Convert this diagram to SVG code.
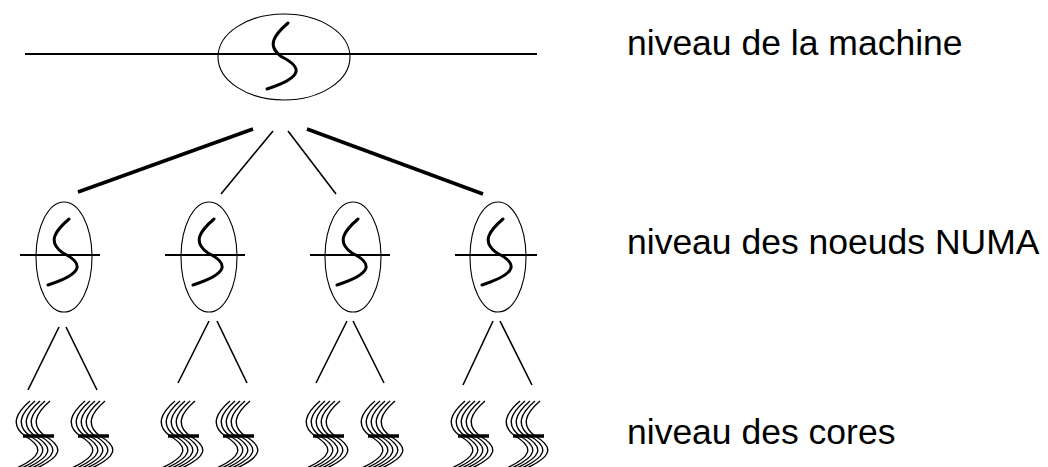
<svg xmlns="http://www.w3.org/2000/svg" xmlns:xlink="http://www.w3.org/1999/xlink" width="1048" height="467" viewBox="0 0 1048 467">
<style>
.ell{fill:none;stroke:#000;stroke-width:1.1}
.hl{stroke:#000;stroke-width:2}
.s{fill:none;stroke:#000;stroke-width:3;stroke-linecap:round}
.strand{fill:none;stroke:#000;stroke-width:1.4}
.bar{stroke:#000;stroke-width:3.5}
.thick{stroke:#000;stroke-width:3.5}
.thin{stroke:#000;stroke-width:1.6}
.lbl{font-family:"Liberation Sans",Arial,sans-serif;font-size:35.5px;fill:#000}
</style>
<defs>
<path id="sg" d="M0,0 C-14,12 -22,23 -6,34 C14,44 16,54 -21,66"/>
<path id="cs" d="M0,0 C-14,12 -20,24 -5,35 C14,46 14,56 -20,70"/>
<g id="core">
<use xlink:href="#cs" class="strand"/>
<use xlink:href="#cs" class="strand" x="5"/>
<use xlink:href="#cs" class="strand" x="10"/>
<use xlink:href="#cs" class="strand" x="15"/>
<use xlink:href="#cs" class="strand" x="20"/>
<line class="bar" x1="-7" y1="35" x2="24" y2="35"/>
</g>
</defs>
<g id="machine">
<line class="hl" x1="25" y1="54" x2="537" y2="54"/>
<ellipse class="ell" cx="284" cy="57" rx="66" ry="43"/>
<use xlink:href="#sg" class="s" x="288" y="23"/>
</g>
<g id="numa1">
<ellipse class="ell" cx="64" cy="257" rx="28" ry="55"/>
<line class="hl" x1="20" y1="255" x2="100" y2="255"/>
<use xlink:href="#sg" class="s" x="69" y="219"/>
</g>
<g id="numa2">
<ellipse class="ell" cx="209" cy="257" rx="28" ry="55"/>
<line class="hl" x1="165" y1="255" x2="245" y2="255"/>
<use xlink:href="#sg" class="s" x="214" y="219"/>
</g>
<g id="numa3">
<ellipse class="ell" cx="353" cy="257" rx="28" ry="55"/>
<line class="hl" x1="310" y1="255" x2="390" y2="255"/>
<use xlink:href="#sg" class="s" x="358" y="219"/>
</g>
<g id="numa4">
<ellipse class="ell" cx="498" cy="257" rx="28" ry="55"/>
<line class="hl" x1="455" y1="255" x2="537" y2="255"/>
<use xlink:href="#sg" class="s" x="503" y="219"/>
</g>
<g id="cores">
<use xlink:href="#core" x="30" y="401"/>
<use xlink:href="#core" x="85" y="401"/>
<use xlink:href="#core" x="175" y="401"/>
<use xlink:href="#core" x="230" y="401"/>
<use xlink:href="#core" x="320" y="401"/>
<use xlink:href="#core" x="375" y="401"/>
<use xlink:href="#core" x="465" y="401"/>
<use xlink:href="#core" x="520" y="401"/>
</g>
<g id="connectors">
<line class="thick" x1="253" y1="129" x2="78" y2="192"/>
<line class="thin" x1="273" y1="131" x2="221" y2="194"/>
<line class="thin" x1="288" y1="131" x2="336" y2="194"/>
<line class="thick" x1="307" y1="129" x2="483" y2="194"/>
<line class="thin" x1="59" y1="327" x2="28" y2="390"/>
<line class="thin" x1="66" y1="327" x2="97" y2="390"/>
<line class="thin" x1="209" y1="321" x2="178" y2="383"/>
<line class="thin" x1="217" y1="321" x2="247" y2="383"/>
<line class="thin" x1="347" y1="321" x2="316" y2="383"/>
<line class="thin" x1="353" y1="321" x2="384" y2="383"/>
<line class="thin" x1="493" y1="321" x2="463" y2="385"/>
<line class="thin" x1="500" y1="321" x2="532" y2="385"/>
</g>
<g id="labels">
<text class="lbl" x="627" y="55">niveau de la machine</text>
<text class="lbl" x="627" y="254">niveau des noeuds NUMA</text>
<text class="lbl" x="627" y="444">niveau des cores</text>
</g>
</svg>
